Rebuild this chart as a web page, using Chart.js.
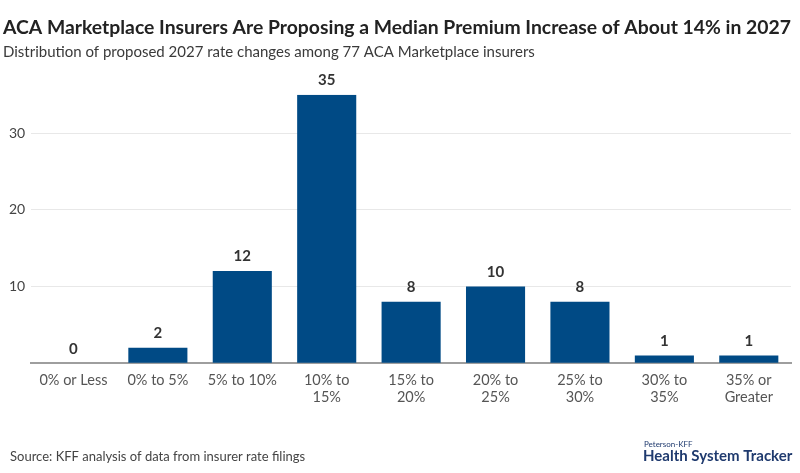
<!DOCTYPE html>
<html>
<head>
<meta charset="utf-8">
<script src="https://cdn.jsdelivr.net/npm/chart.js@4"></script>
<style>
  html, body { margin: 0; padding: 0; background: #fff; }
  #wrap { width: 800px; height: 473px; position: relative; }
</style>
</head>
<body>
<div id="wrap"><canvas id="chart"></canvas></div>
<script>
// Chart data
const categories = [
    '0% or Less', '0% to 5%', '5% to 10%', ['10% to', '15%'], ['15% to', '20%'],
    ['20% to', '25%'], ['25% to', '30%'], ['30% to', '35%'], ['35% or', 'Greater']
];
const insurerCounts = [0, 2, 12, 35, 8, 10, 8, 1, 1];
const yTicks = [0, 10, 20, 30];

const FONT = 'Lato, "Liberation Sans", sans-serif';

// value labels above bars
const valueLabels = {
    id: 'valueLabels',
    afterDatasetsDraw(chart) {
        const c = chart.ctx;
        const meta = chart.getDatasetMeta(0);
        c.save();
        c.font = 'bold 15px ' + FONT;
        c.fillStyle = '#333';
        c.textAlign = 'center';
        c.textBaseline = 'bottom';
        meta.data.forEach((bar, i) => {
            c.fillText(insurerCounts[i], bar.x, bar.y - 7);
        });
        c.restore();
    }
};

// source line + logo
const footer = {
    id: 'footer',
    afterDraw(chart) {
        const c = chart.ctx;
        c.save();
        c.textBaseline = 'alphabetic';
        c.textAlign = 'left';
        c.fillStyle = '#444';
        c.font = '13px ' + FONT;
        c.fillText('Source: KFF analysis of data from insurer rate filings', 10, 461);
        c.fillStyle = '#1f3a6e';
        c.font = '8px ' + FONT;
        c.fillText('Peterson-KFF', 644, 447);
        c.font = 'bold 15px ' + FONT;
        c.fillText('Health System Tracker', 643, 461);
        c.restore();
    }
};

new Chart(document.getElementById('chart'), {
    type: 'bar',
    data: {
        labels: categories,
        datasets: [{
            data: insurerCounts,
            backgroundColor: '#004a85',
            barPercentage: 0.7,
            categoryPercentage: 1
        }]
    },
    options: {
        responsive: true,
        maintainAspectRatio: false,
        animation: false,
        layout: { padding: { left: 3, right: 9, top: 0, bottom: 67 } },
        plugins: {
            legend: { display: false },
            tooltip: { enabled: false },
            title: {
                display: true,
                align: 'start',
                text: 'ACA Marketplace Insurers Are Proposing a Median Premium Increase of About 14% in 2027',
                color: '#222',
                font: { family: FONT, size: 19.7, weight: 'bold' },
                padding: { top: 16, bottom: 4 }
            },
            subtitle: {
                display: true,
                align: 'start',
                text: 'Distribution of proposed 2027 rate changes among 77 ACA Marketplace insurers',
                color: '#3a3a3a',
                font: { family: FONT, size: 15 },
                padding: { bottom: 33 }
            }
        },
        scales: {
            x: {
                grid: { display: false },
                border: { color: '#9e9e9e', width: 2 },
                ticks: {
                    color: '#555',
                    font: { family: FONT, size: 14.5 },
                    maxRotation: 0,
                    autoSkip: false,
                    padding: 0
                }
            },
            y: {
                min: 0,
                max: 35,
                afterBuildTicks(axis) {
                    axis.ticks = yTicks.map(v => ({ value: v }));
                },
                border: { display: false },
                grid: {
                    color: ctx => ctx.tick && ctx.tick.value === 0 ? 'rgba(0,0,0,0)' : '#e8e8e8',
                    drawTicks: false
                },
                ticks: {
                    color: '#444',
                    font: { family: FONT, size: 14 },
                    padding: 6,
                    callback: v => v === 0 ? '' : v
                }
            }
        }
    },
    plugins: [valueLabels, footer]
});
</script>
</body>
</html>
